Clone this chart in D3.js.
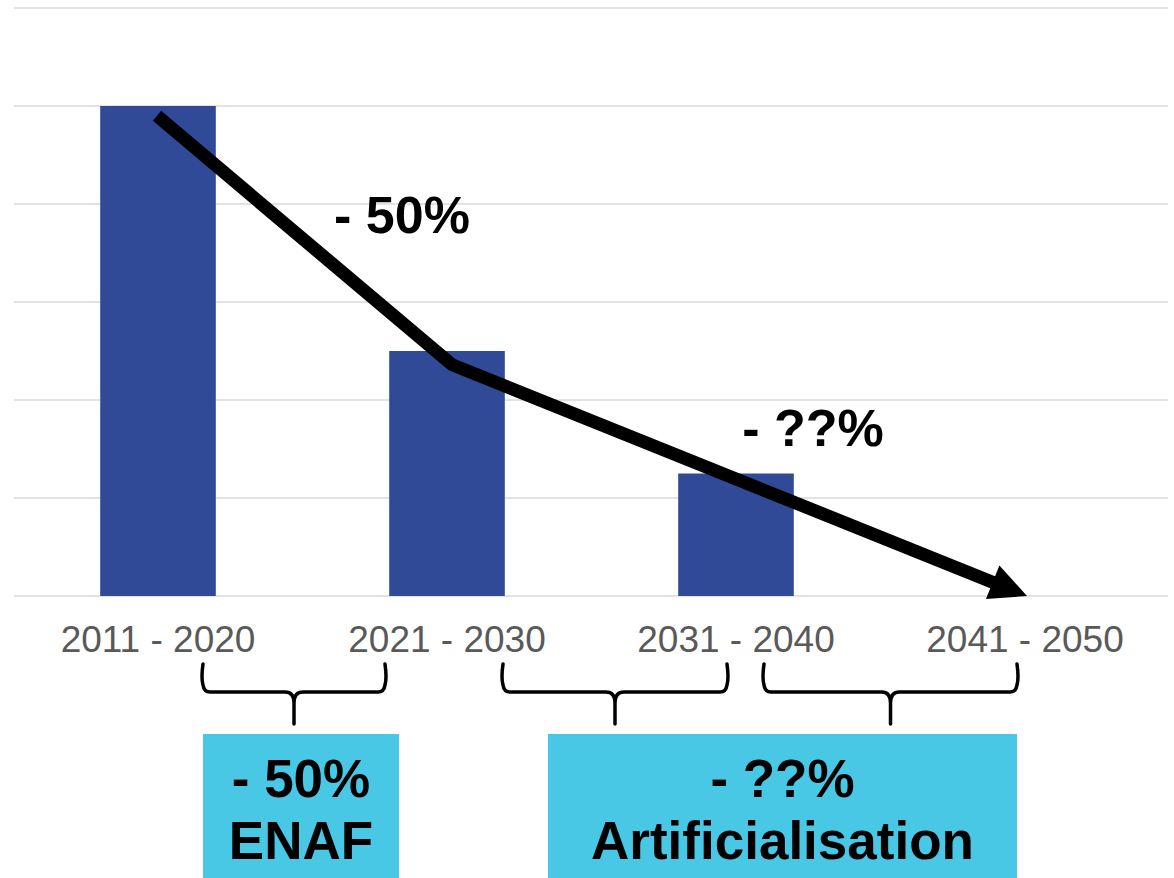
<!DOCTYPE html>
<html lang="fr">
<head>
<meta charset="UTF-8">
<title>ENAF / Artificialisation</title>
<script src="https://d3js.org/d3.v7.min.js"></script>
<style>
  body { margin: 0; background: #fff; font-family: Arial, "Liberation Sans", sans-serif; }
  svg { display: block; }
</style>
</head>
<body>
<div id="chart"></div>
<script>
// data
const periods = ["2011 - 2020", "2021 - 2030", "2031 - 2040", "2041 - 2050"];
const values = [5, 2.5, 1.25, 0];
const gridTicks = [0, 1, 2, 3, 4, 5, 6];

// trend arrow: [period, value, x offset in px from band centre]
const arrowPts = [["2011 - 2020", 4.9, -1], ["2021 - 2030", 2.36, 5], ["2041 - 2050", 0, 2]];
const arrowLabels = [
  { text: "- 50%", period: "2021 - 2030", value: 3.7, dx: -45 },
  { text: "- ??%", period: "2031 - 2040", value: 1.53, dx: 77 }
];

// braces under the axis (left, right edges) and boxes below
const braces = [[203, 385], [503, 727], [764, 1017]];
const boxes = [
  { lines: ["- 50%", "ENAF"], from: 203, to: 399 },
  { lines: ["- ??%", "Artificialisation"], from: 548, to: 1017 }
];

const W = 1174, H = 878;
const svg = d3.select("#chart").append("svg").attr("width", W).attr("height", H);

const x = d3.scaleBand().domain(periods).range([13.5, 1169.5]).paddingInner(0.6).paddingOuter(0.3);
const y = d3.scaleLinear().domain([0, 6]).range([596, 8]);
const cx = p => x(p) + x.bandwidth() / 2;

// gridlines
svg.append("g").selectAll("line").data(gridTicks).enter().append("line")
  .attr("x1", 14).attr("x2", 1168)
  .attr("y1", d => y(d)).attr("y2", d => y(d))
  .attr("stroke", "#d9d9d9").attr("stroke-width", 1.5);

// bars
svg.append("g").selectAll("rect").data(values).enter().append("rect")
  .attr("x", (d, i) => x(periods[i]))
  .attr("width", x.bandwidth())
  .attr("y", d => y(d))
  .attr("height", d => y(0) - y(d))
  .attr("fill", "#304a98");

// x axis labels
const xAxis = d3.axisBottom(x).tickSize(0).tickPadding(0);
const gx = svg.append("g").attr("transform", `translate(0,${y(0)})`).call(xAxis);
gx.select(".domain").remove();
gx.selectAll("text")
  .attr("y", 56).attr("dy", 0)
  .attr("fill", "#595959")
  .style("font-size", "37px")
  .style("font-family", "Arial, 'Liberation Sans', sans-serif");

// arrow
const pts = arrowPts.map(d => [cx(d[0]) + d[2], y(d[1])]);
const tip = pts[pts.length - 1], prev = pts[pts.length - 2];
const len = Math.hypot(tip[0] - prev[0], tip[1] - prev[1]);
const ux = (tip[0] - prev[0]) / len, uy = (tip[1] - prev[1]) / len;
const headL = 37, headW = 18;
const base = [tip[0] - ux * headL, tip[1] - uy * headL];
const linePts = pts.slice(0, -1).concat([[base[0] + ux * 4, base[1] + uy * 4]]);

svg.append("path")
  .attr("d", d3.line()(linePts))
  .attr("fill", "none").attr("stroke", "#000")
  .attr("stroke-width", 13).attr("stroke-linejoin", "miter");

svg.append("path")
  .attr("d", d3.line()([
    tip,
    [base[0] - uy * headW, base[1] + ux * headW],
    [base[0] + uy * headW, base[1] - ux * headW]
  ]) + "Z")
  .attr("fill", "#000");

svg.append("g").selectAll("text").data(arrowLabels).enter().append("text")
  .attr("x", d => cx(d.period) + d.dx)
  .attr("y", d => y(d.value))
  .attr("text-anchor", "middle")
  .attr("font-weight", "bold").attr("font-size", 52)
  .attr("fill", "#000")
  .text(d => d.text);

// braces
const braceTop = 664, braceMid = 692, braceTip = 724;
function bracePath(x1, x2) {
  const m = (x1 + x2) / 2, r = 7;
  return `M${x1},${braceTop} Q${x1 - 2},${braceMid - 14} ${x1},${braceMid - r} Q${x1 + 1},${braceMid} ${x1 + r},${braceMid}` +
    ` L${m - 9},${braceMid} Q${m},${braceMid} ${m},${braceMid + 11} L${m},${braceTip}` +
    ` M${m},${braceMid + 11} Q${m},${braceMid} ${m + 9},${braceMid}` +
    ` L${x2 - r},${braceMid} Q${x2 - 1},${braceMid} ${x2},${braceMid - r} Q${x2 + 2},${braceMid - 14} ${x2},${braceTop}`;
}
svg.append("g").selectAll("path").data(braces).enter().append("path")
  .attr("d", d => bracePath(d[0], d[1]))
  .attr("fill", "none").attr("stroke", "#000")
  .attr("stroke-width", 3.5).attr("stroke-linecap", "round");

// boxes
const bg = svg.append("g").selectAll("g").data(boxes).enter().append("g");
bg.append("rect")
  .attr("x", d => d.from).attr("width", d => d.to - d.from)
  .attr("y", 734).attr("height", H - 734)
  .attr("fill", "#48c8e5");
bg.each(function(d) {
  const g = d3.select(this);
  d.lines.forEach((t, i) => {
    g.append("text")
      .attr("x", (d.from + d.to) / 2)
      .attr("y", 797 + i * 62)
      .attr("text-anchor", "middle")
      .attr("font-weight", "bold").attr("font-size", 53)
      .attr("fill", "#000")
      .text(t);
  });
});
</script>
</body>
</html>
